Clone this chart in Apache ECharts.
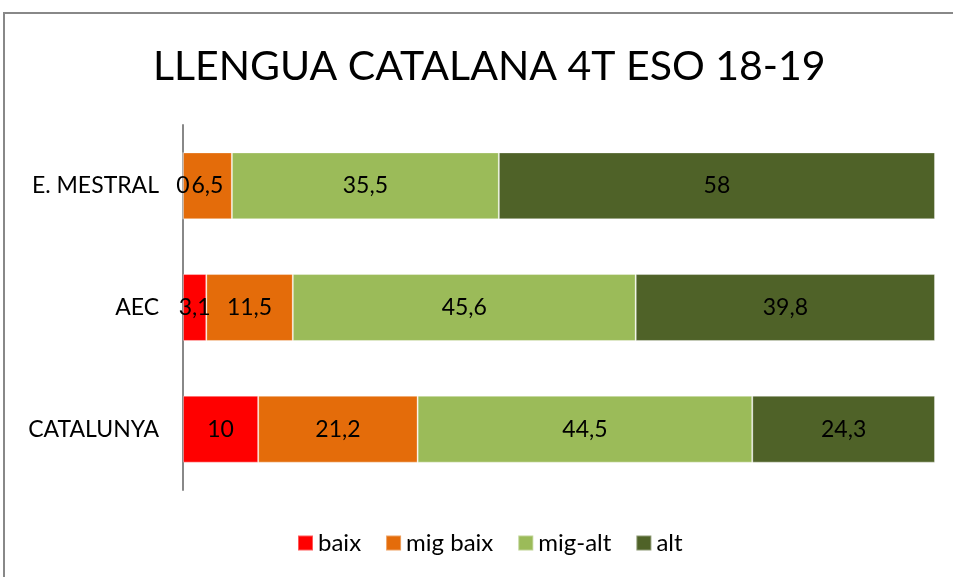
<!DOCTYPE html>
<html lang="ca">
<head>
    <meta charset="utf-8">
    <title>Llengua catalana 4t ESO 18-19</title>
    <script src="https://cdn.jsdelivr.net/npm/echarts@6/dist/echarts.min.js"></script>
    <style>
        html, body { margin: 0; padding: 0; background: #fff; }
        #main { width: 953px; height: 577px; }
    </style>
</head>
<body>
    <div id="main"></div>
    <script type="text/javascript">
    // dades (de baix a dalt)
    var categories = ['CATALUNYA', 'AEC', 'E. MESTRAL'];
    var seriesNames = ['baix', 'mig baix', 'mig-alt', 'alt'];
    var baix = [10, 3.1, 0];
    var migBaix = [21.2, 11.5, 6.5];
    var migAlt = [44.5, 45.6, 35.5];
    var alt = [24.3, 39.8, 58];
    var colors = ['#FF0000', '#E46C0A', '#9BBB59', '#4F6228'];

    var font = 'Lato, "Open Sans", sans-serif';
    var myChart = echarts.init(document.getElementById('main'));

    // etiqueta amb coma decimal
    var fmt = function (p) {
        return String(p.value).replace('.', ',');
    };

    var makeSeries = function (name, data, i) {
        return {
            name: name,
            type: 'bar',
            stack: 'total',
            data: data,
            barCategoryGap: '45%',
            itemStyle: {
                color: colors[i],
                borderColor: 'rgba(255,255,255,0.35)',
                borderWidth: 1
            },
            label: {
                show: true,
                position: 'inside',
                formatter: fmt,
                color: '#000',
                fontFamily: font,
                fontSize: 23
            }
        };
    };

    myChart.setOption({
        animation: false,
        title: {
            text: 'LLENGUA CATALANA 4T ESO 18-19',
            left: 148,
            top: 41,
            textStyle: {
                fontFamily: font,
                fontWeight: 'normal',
                fontSize: 41,
                color: '#000'
            }
        },
        graphic: [{
            type: 'rect',
            shape: { x: 4, y: 13, width: 1200, height: 900 },
            style: { fill: 'none', stroke: '#888', lineWidth: 2 },
            silent: true
        }],
        legend: {
            data: seriesNames,
            bottom: 17,
            left: 292,
            itemWidth: 15,
            itemHeight: 15,
            itemGap: 24,
            icon: 'rect',
            textStyle: { fontFamily: font, fontSize: 24, color: '#000' }
        },
        grid: {
            left: 183,
            right: 18,
            top: 125,
            bottom: 87,
            containLabel: false
        },
        xAxis: {
            type: 'value',
            min: 0,
            max: 100,
            show: false
        },
        yAxis: {
            type: 'category',
            data: categories,
            axisLine: { show: true, lineStyle: { color: '#888', width: 2 } },
            axisTick: { show: false },
            axisLabel: {
                fontFamily: font,
                fontSize: 23,
                color: '#000',
                margin: 24
            }
        },
        series: [
            makeSeries(seriesNames[0], baix, 0),
            makeSeries(seriesNames[1], migBaix, 1),
            makeSeries(seriesNames[2], migAlt, 2),
            makeSeries(seriesNames[3], alt, 3)
        ]
    });
    </script>
</body>
</html>
